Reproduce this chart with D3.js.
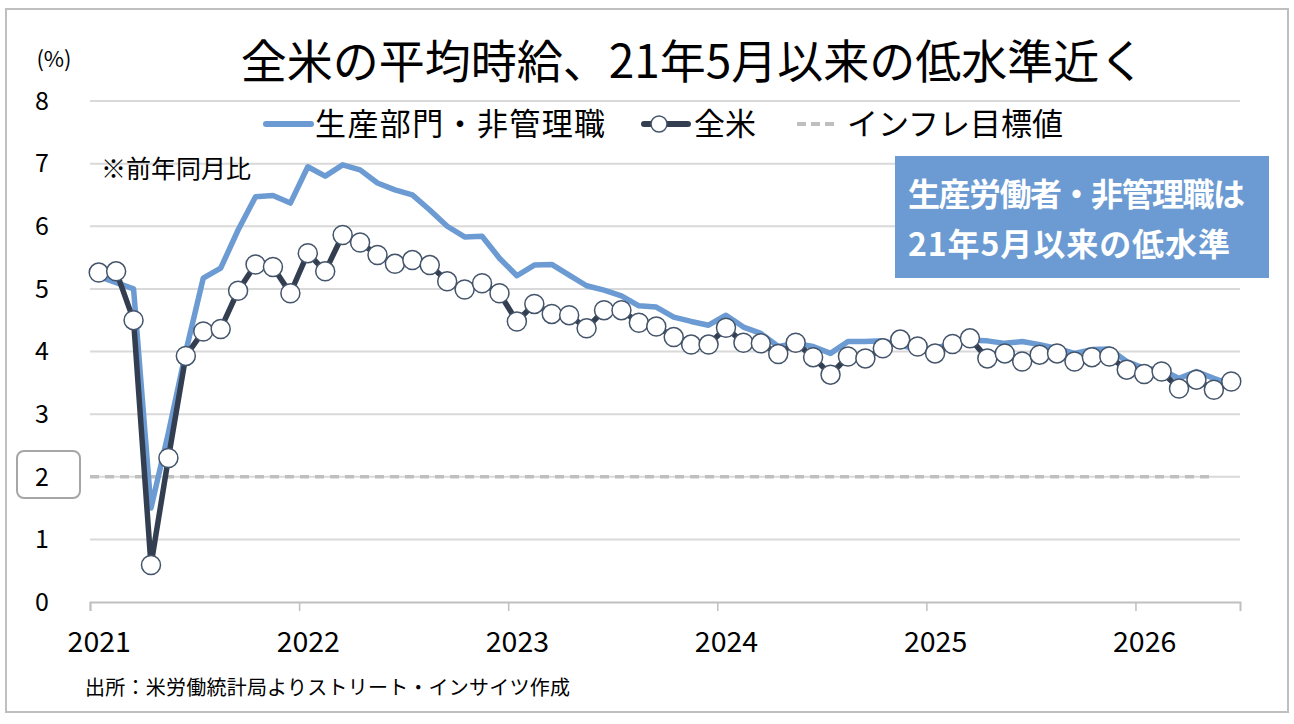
<!DOCTYPE html>
<html><head><meta charset="utf-8">
<script src="https://cdn.jsdelivr.net/npm/d3@7"></script>
<style>
html,body{margin:0;padding:0;background:#fff;}
svg text{font-family:"Noto Sans CJK JP","Noto Sans",sans-serif;}
</style></head>
<body><svg id="c" width="1294" height="724"></svg>
<script>
// ---- data (monthly, Jan 2021 onward) ----
const startYear = 2021;
const yearLabels = ["2021","2022","2023","2024","2025","2026"];
const yTicks = [0,1,2,3,4,5,6,7,8];
const seriesNames = ["生産部門・非管理職","全米","インフレ目標値"];
const production = [5.2,5.1,5.0,1.5,2.7,4.0,5.17,5.33,5.94,6.47,6.49,6.37,
  6.95,6.8,6.98,6.9,6.69,6.58,6.5,6.26,6.0,5.83,5.84,5.49,
  5.21,5.38,5.39,5.22,5.05,4.98,4.89,4.73,4.71,4.55,4.48,4.42,
  4.58,4.39,4.29,4.08,4.13,4.08,3.97,4.16,4.16,4.17,4.1,4.04,
  4.05,4.13,4.18,4.17,4.13,4.16,4.11,4.05,3.97,4.03,4.04,3.84,
  3.73,3.71,3.57,3.68,3.57,3.47];
const allUS = [5.26,5.28,4.5,0.59,2.3,3.93,4.32,4.36,4.97,5.39,5.35,4.93,
  5.57,5.28,5.86,5.74,5.54,5.4,5.46,5.38,5.12,4.99,5.09,4.93,
  4.48,4.76,4.6,4.58,4.37,4.66,4.66,4.46,4.4,4.23,4.11,4.11,
  4.38,4.14,4.13,3.96,4.14,3.91,3.63,3.92,3.89,4.05,4.19,4.08,
  3.97,4.12,4.21,3.89,3.97,3.84,3.95,3.97,3.84,3.91,3.92,3.71,
  3.64,3.68,3.41,3.55,3.39,3.52];
const inflationTarget = 2;
const titleText = "全米の平均時給、21年5月以来の低水準近く";
const noteText = "※前年同月比";
const boxLines = ["生産労働者・非管理職は","21年5月以来の低水準"];
const sourceText = "出所：米労働統計局よりストリート・インサイツ作成";

const svg = d3.select("#c");
const nMonths = 66;
const x = d3.scaleLinear().domain([0,nMonths]).range([90,1240]);
const y = d3.scaleLinear().domain([0,8]).range([602,101]);
const xm = i => x(i+0.5);

// frame
svg.append("rect").attr("x",6).attr("y",9).attr("width",1282).attr("height",703)
  .attr("fill","#fff").attr("stroke","#bfbfbf").attr("stroke-width",2);

// gridlines
svg.append("g").selectAll("line").data(yTicks.filter(d=>d>0)).join("line")
  .attr("x1",x(0)).attr("x2",x(nMonths)).attr("y1",d=>y(d)).attr("y2",d=>y(d))
  .attr("stroke","#d9d9d9").attr("stroke-width",2);

// x axis
const xAxis = d3.axisBottom(x).tickValues(d3.range(0,nMonths,12))
  .tickSize(9).tickFormat((d,i)=>yearLabels[i]);
const gx = svg.append("g").attr("transform",`translate(0,${y(0)})`).call(xAxis);
gx.select(".domain").attr("stroke","#bfbfbf").attr("stroke-width",2);
gx.selectAll(".tick line").attr("stroke","#bfbfbf").attr("stroke-width",1.5);
gx.selectAll(".tick text").attr("x",x(0.5)-x(0)).attr("y",30)
  .attr("font-size",28.5).attr("fill","#000");

// y labels
svg.append("g").selectAll("text").data(yTicks).join("text")
  .attr("x",42).attr("y",d=>y(d)).attr("dy","0.35em").attr("text-anchor","middle")
  .attr("font-size",25).attr("fill","#000").text(d=>d);
svg.append("rect").attr("x",17).attr("y",451).attr("width",63).attr("height",47)
  .attr("rx",7).attr("fill","none").attr("stroke","#a6a6a6").attr("stroke-width",2);
svg.append("text").attr("x",54).attr("y",59).attr("dy","0.35em").attr("text-anchor","middle")
  .attr("font-size",22).text("(%)");

// title
svg.append("text").attr("x",693).attr("y",62).attr("dy","0.35em").attr("text-anchor","middle")
  .attr("font-size",46).attr("fill","#000").text(titleText);

// note
svg.append("text").attr("x",101).attr("y",169).attr("dy","0.35em")
  .attr("font-size",25).text(noteText);

// inflation target
svg.append("line").attr("x1",x(0)).attr("x2",xm(64)).attr("y1",y(inflationTarget)).attr("y2",y(inflationTarget))
  .attr("stroke","#bfbfbf").attr("stroke-width",3.5).attr("stroke-dasharray","9,6");

// production line
const line = d3.line().x((d,i)=>xm(i)).y(d=>y(d));
svg.append("path").datum(production).attr("d",line).attr("fill","none")
  .attr("stroke","#6b9bd2").attr("stroke-width",5.5).attr("stroke-linejoin","round");

// all US line
svg.append("path").datum(allUS).attr("d",line).attr("fill","none")
  .attr("stroke","#333f50").attr("stroke-width",5.5).attr("stroke-linejoin","round");
svg.append("g").selectAll("circle").data(allUS).join("circle")
  .attr("cx",(d,i)=>xm(i)).attr("cy",d=>y(d)).attr("r",9.5)
  .attr("fill","#fff").attr("stroke","#44546a").attr("stroke-width",1.5);

// legend
const ly = 124;
svg.append("line").attr("x1",266).attr("x2",311).attr("y1",ly).attr("y2",ly)
  .attr("stroke","#6b9bd2").attr("stroke-width",6).attr("stroke-linecap","round");
svg.append("text").attr("x",315).attr("y",ly).attr("dy","0.35em").attr("font-size",31)
  .attr("textLength",290).attr("lengthAdjust","spacing").text(seriesNames[0]);
svg.append("line").attr("x1",644).attr("x2",688).attr("y1",ly).attr("y2",ly)
  .attr("stroke","#333f50").attr("stroke-width",6).attr("stroke-linecap","round");
svg.append("circle").attr("cx",659).attr("cy",ly).attr("r",8)
  .attr("fill","#fff").attr("stroke","#44546a").attr("stroke-width",1.5);
svg.append("text").attr("x",694).attr("y",ly).attr("dy","0.35em").attr("font-size",31).text(seriesNames[1]);
svg.append("line").attr("x1",797).attr("x2",838).attr("y1",ly).attr("y2",ly)
  .attr("stroke","#bfbfbf").attr("stroke-width",4).attr("stroke-dasharray","9,5");
svg.append("text").attr("x",847).attr("y",ly).attr("dy","0.35em").attr("font-size",31).text(seriesNames[2]);

// annotation box
svg.append("rect").attr("x",895).attr("y",156).attr("width",374).attr("height",122)
  .attr("fill","#6b9bd2");
const boxWidths = [337, 322];
svg.append("g").selectAll("text").data(boxLines).join("text")
  .attr("x",908).attr("y",(d,i)=>195+i*50).attr("dy","0.35em")
  .attr("font-size",32).attr("font-weight","bold").attr("fill","#fff")
  .attr("textLength",(d,i)=>boxWidths[i]).attr("lengthAdjust","spacing").text(d=>d);

// source
svg.append("text").attr("x",85).attr("y",688).attr("dy","0.35em")
  .attr("font-size",20).attr("textLength",485).attr("lengthAdjust","spacing").text(sourceText);
</script></body></html>
